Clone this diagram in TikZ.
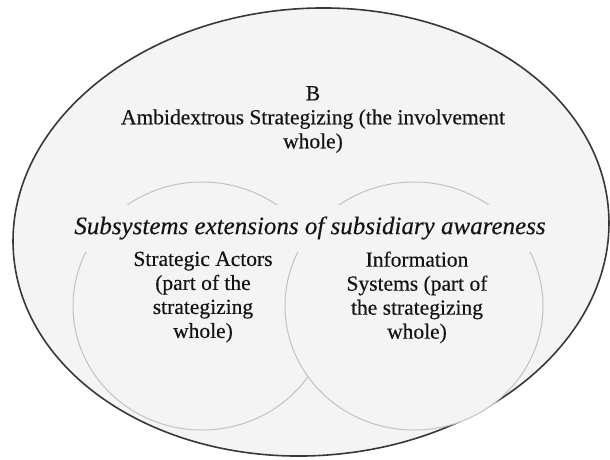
\documentclass[tikz,border=0pt]{standalone}
\usepackage{fontspec}
\setmainfont{Liberation Serif}[FakeBold=0.35]
\usetikzlibrary{shapes.geometric}
\definecolor{rim}{HTML}{383838}
\definecolor{faint}{HTML}{C2C2C2}
\definecolor{paper}{HTML}{F4F4F4}
\begin{document}
\begin{tikzpicture}[x=1pt,y=-1pt,
  outer/.style={ellipse, draw=rim, line width=1.6pt, fill=paper, inner sep=0pt},
  subsys/.style={ellipse, draw=faint, line width=1pt, inner sep=0pt,
                 minimum width=258pt, minimum height=248pt},
  body/.style={font=\fontsize{21.5}{24}\selectfont, align=center, inner sep=0pt, text=black!92},
  band/.style={font=\fontsize{25}{28}\selectfont\itshape, fill=paper,
               inner xsep=6pt, inner ysep=12pt, text=black!92}]
\useasboundingbox (0,0) rectangle (610,459);

% the involvement whole
\node[outer, rotate=4, minimum width=596.6pt, minimum height=447.2pt] (whole) at (311,232) {};

% the two subsystems; the right one is laid over the left one
\node[subsys] (actors) at (202,306) {};
\node[subsys, fill=paper] (infosys) at (414,306) {};

% the band of text that interrupts both subsystems
\node[band] (ext) at (310,228) {Subsystems extensions of subsidiary awareness};

% labels
\node[body, anchor=north] (title) at (313,86)
  {B\\Ambidextrous Strategizing (the involvement\\whole)};
\node[body, anchor=north] (actlbl) at (203,251.5)
  {Strategic Actors\\(part of the\\strategizing\\whole)};
\node[body, anchor=north] (islbl) at (417,251.3)
  {Information\\Systems (part of\\the strategizing\\whole)};
\end{tikzpicture}
\end{document}
